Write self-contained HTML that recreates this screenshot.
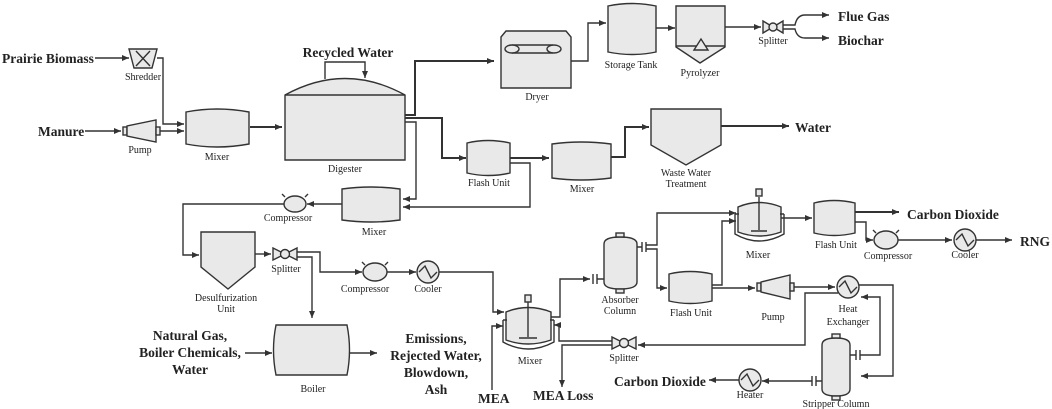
<!DOCTYPE html>
<html><head><meta charset="utf-8"><style>
html,body{margin:0;padding:0;background:#fff;}
svg{display:block;}
text{font-family:"Liberation Serif",serif;fill:#222;}
.l{font-size:10px;text-anchor:middle;}
.b{font-size:13.5px;font-weight:bold;}
.s{fill:#e9e9e9;stroke:#333;stroke-width:1.4;}
.p{fill:none;stroke:#333;stroke-width:1.4;}
.t{fill:none;stroke:#333;stroke-width:2;}
</style></head><body>
<svg width="1052" height="409" viewBox="0 0 1052 409" xmlns="http://www.w3.org/2000/svg">
<defs><marker id="a" markerWidth="8" markerHeight="8" refX="7" refY="4" orient="auto" markerUnits="userSpaceOnUse"><path d="M0,1 L7,4 L0,7 Z" fill="#333"/></marker></defs>

<text class="b" x="2" y="63">Prairie Biomass</text>
<path class="p" d="M95,58 H129" marker-end="url(#a)"/>
<path class="s" d="M129,49 H157 L152,68 H134 Z"/><path class="p" d="M136,51 L150,66 M150,51 L136,66"/>
<text class="l" x="143" y="80">Shredder</text>
<path class="p" d="M157,58 H163 V124 H184" marker-end="url(#a)"/>
<text class="b" x="38" y="136">Manure</text>
<path class="p" d="M85,131 H121" marker-end="url(#a)"/>
<rect class="s" x="123" y="127" width="4" height="8"/><path class="s" d="M127,126 L156,120 V142 L127,136 Z"/><rect class="s" x="156" y="127" width="4" height="8"/>
<text class="l" x="140" y="153">Pump</text>
<path class="p" d="M160,131 H184" marker-end="url(#a)"/>
<path class="s" d="M186,112 Q217,106 249,112 V144 Q217,150 186,144 Z"/>
<text class="l" x="217" y="160">Mixer</text>
<path class="t" d="M250,127 H282" marker-end="url(#a)"/>
<path class="s" d="M285,95 Q345,62 405,95 V160 H285 Z"/><path class="p" d="M285,95 H405"/>
<text class="l" x="345" y="172">Digester</text>
<text class="b" x="348" y="57" text-anchor="middle">Recycled Water</text>
<path class="p" d="M325,79 V62 H365 V78" marker-end="url(#a)"/>
<path class="t" d="M405,115 H415 V61 H494" marker-end="url(#a)"/>
<path class="t" d="M405,118 H442 V158 H466" marker-end="url(#a)"/>
<path class="p" d="M405,122 H416 V199 H403" marker-end="url(#a)"/>
<path class="s" d="M501,37 L506,31 H566 L571,37 V88 H501 Z"/>
<path class="p" d="M512,45 H553 M512,53 H553"/><ellipse class="s" cx="512" cy="49" rx="7" ry="4"/><ellipse class="s" cx="554" cy="49" rx="7" ry="4"/>
<text class="l" x="537" y="100">Dryer</text>
<path class="p" d="M571,61 H588 V23 H606" marker-end="url(#a)"/>
<path class="s" d="M608,6 Q632,1 656,6 V52 Q632,57 608,52 Z"/>
<text class="l" x="631" y="68">Storage Tank</text>
<path class="p" d="M656,28 H675" marker-end="url(#a)"/>
<path class="s" d="M676,6 H725 V47 L700,63 L676,47 Z"/><path class="p" d="M676,46 H725"/>
<path class="s" d="M694,50 L701,39 L708,50 Z"/>
<text class="l" x="700" y="76">Pyrolyzer</text>
<path class="p" d="M725,27 H761" marker-end="url(#a)"/>
<path class="s" d="M763,21 L773,27 L763,33 Z M783,21 L773,27 L783,33 Z"/><circle class="s" cx="773" cy="27" r="4"/>
<text class="l" x="773" y="44">Splitter</text>
<path class="p" d="M783,25 H795 Q797,15 805,15 H829" marker-end="url(#a)"/>
<path class="p" d="M783,29 H795 Q797,38 805,38 H829" marker-end="url(#a)"/>
<text class="b" x="838" y="21">Flue Gas</text>
<text class="b" x="838" y="45">Biochar</text>
<path class="s" d="M467,143 Q488,138 510,143 V173 Q488,178 467,173 Z"/>
<text class="l" x="489" y="186">Flash Unit</text>
<path class="t" d="M510,158 H549" marker-end="url(#a)"/>
<path class="p" d="M510,163 H530 V207 H403" marker-end="url(#a)"/>
<path class="s" d="M552,144 Q581,140 611,144 V178 Q581,182 552,178 Z"/>
<text class="l" x="582" y="192">Mixer</text>
<path class="t" d="M611,157 H625 V127 H649" marker-end="url(#a)"/>
<path class="s" d="M651,109 H721 V145 L686,165 L651,145 Z"/>
<text class="l" x="686" y="176">Waste Water</text><text class="l" x="686" y="187">Treatment</text>
<path class="t" d="M721,126 H789" marker-end="url(#a)"/>
<text class="b" x="795" y="132">Water</text>
<path class="s" d="M342,189 Q371,185 400,189 V220 Q371,224 342,220 Z"/>
<text class="l" x="374" y="235">Mixer</text>
<path class="p" d="M342,204 H307" marker-end="url(#a)"/>
<ellipse class="s" cx="295" cy="204" rx="11" ry="8"/><path class="p" d="M285,197 L282,194 M305,197 L308,194"/>
<text class="l" x="288" y="221">Compressor</text>
<path class="p" d="M284,204 H183 V255 H199" marker-end="url(#a)"/>
<path class="s" d="M201,232 H255 V267 L228,289 L201,267 Z"/>
<text class="l" x="226" y="301">Desulfurization</text><text class="l" x="226" y="312">Unit</text>
<path class="p" d="M255,254 H271" marker-end="url(#a)"/>
<path class="s" d="M273,248 L285,254 L273,260 Z M297,248 L285,254 L297,260 Z"/><circle class="s" cx="285" cy="254" r="4.5"/>
<text class="l" x="286" y="272">Splitter</text>
<path class="p" d="M297,252 H320 V272 H362" marker-end="url(#a)"/>
<path class="p" d="M297,257 H312 V318" marker-end="url(#a)"/>
<ellipse class="s" cx="375" cy="272" rx="12" ry="9"/><path class="p" d="M365,265 L362,262 M385,265 L388,262"/>
<text class="l" x="365" y="292">Compressor</text>
<path class="p" d="M387,272 H416" marker-end="url(#a)"/>
<circle class="s" cx="428" cy="272" r="11"/><path class="p" d="M419,272 L425,266 L431,278 L437,272"/>
<text class="l" x="428" y="292">Cooler</text>
<path class="p" d="M439,272 H493 V312 H504" marker-end="url(#a)"/>
<path class="s" d="M276,325 H347 Q352,350 347,375 H276 Q271,350 276,325 Z"/>
<text class="l" x="313" y="392">Boiler</text>
<text class="b" x="190" y="340" text-anchor="middle">Natural Gas,</text>
<text class="b" x="190" y="357" text-anchor="middle">Boiler Chemicals,</text>
<text class="b" x="190" y="374" text-anchor="middle">Water</text>
<path class="p" d="M245,353 H272" marker-end="url(#a)"/>
<path class="p" d="M350,353 H377" marker-end="url(#a)"/>
<text class="b" x="436" y="343" text-anchor="middle">Emissions,</text>
<text class="b" x="436" y="360" text-anchor="middle">Rejected Water,</text>
<text class="b" x="436" y="377" text-anchor="middle">Blowdown,</text>
<text class="b" x="436" y="394" text-anchor="middle">Ash</text>
<path class="s" d="M506,312 Q528,303 551,312 V340 Q528,348 506,340 Z"/>
<path class="p" d="M503,320 V342 Q528,356 554,342 V320 M503,320 H507 M550,320 H554"/>
<path class="p" d="M528,302 V337 M519,338 H537"/><rect class="s" x="525" y="295" width="6" height="7"/>
<text class="l" x="530" y="364">Mixer</text>
<text class="b" x="478" y="403">MEA</text>
<path class="p" d="M492,390 V326 H503" marker-end="url(#a)"/>
<text class="b" x="533" y="400">MEA Loss</text>
<path class="p" d="M613,345 H562 V387" marker-end="url(#a)"/>
<path class="p" d="M613,341 H559 V325 H554" marker-end="url(#a)"/>
<path class="s" d="M612,337 L624,343 L612,349 Z M636,337 L624,343 L636,349 Z"/><circle class="s" cx="624" cy="343" r="4.5"/>
<text class="l" x="624" y="361">Splitter</text>
<path class="p" d="M551,317 H560 V279 H590" marker-end="url(#a)"/>
<path class="p" d="M593,274 V284 M597,274 V284 M597,279 H604"/>
<path class="s" d="M604,244 Q604,237 620,237 Q637,237 637,244 V282 Q637,289 620,289 Q604,289 604,282 Z"/>
<rect class="s" x="616" y="233" width="8" height="4"/><rect class="s" x="616" y="289" width="8" height="4"/>
<text class="l" x="620" y="303">Absorber</text><text class="l" x="620" y="314">Column</text>
<path class="p" d="M637,247 H642 M642,242 V252 M646,242 V252"/>
<path class="p" d="M646,245 H657 V213 H736" marker-end="url(#a)"/>
<path class="p" d="M646,249 H657 V288 H667" marker-end="url(#a)"/>
<path class="s" d="M669,274 Q690,269 712,274 V301 Q690,306 669,301 Z"/>
<text class="l" x="691" y="316">Flash Unit</text>
<path class="p" d="M712,285 H722 V221 H736" marker-end="url(#a)"/>
<path class="p" d="M712,288 H755" marker-end="url(#a)"/>
<path class="s" d="M738,207 Q759,198 781,207 V232 Q759,240 738,232 Z"/>
<path class="p" d="M735,214 V234 Q759,248 784,234 V214 M735,214 H739 M780,214 H784"/>
<path class="p" d="M759,197 V230 M751,231 H767"/><rect class="s" x="756" y="189" width="6" height="7"/>
<text class="l" x="758" y="258">Mixer</text>
<path class="p" d="M781,218 H812" marker-end="url(#a)"/>
<path class="s" d="M814,203 Q834,198 855,203 V233 Q834,238 814,233 Z"/>
<text class="l" x="836" y="248">Flash Unit</text>
<path class="t" d="M855,212 H899" marker-end="url(#a)"/>
<text class="b" x="907" y="219">Carbon Dioxide</text>
<path class="p" d="M855,222 H866 V240 H873" marker-end="url(#a)"/>
<ellipse class="s" cx="886" cy="240" rx="12" ry="9"/><path class="p" d="M876,233 L873,230 M896,233 L899,230"/>
<text class="l" x="888" y="259">Compressor</text>
<path class="p" d="M898,240 H952" marker-end="url(#a)"/>
<circle class="s" cx="965" cy="240" r="11"/><path class="p" d="M956,240 L962,234 L968,246 L974,240"/>
<text class="l" x="965" y="258">Cooler</text>
<path class="p" d="M976,240 H1012" marker-end="url(#a)"/>
<text class="b" x="1020" y="246">RNG</text>
<rect class="s" x="757" y="283" width="4" height="8"/><path class="s" d="M761,282 L790,275 V299 L761,292 Z"/><rect class="s" x="790" y="283" width="4" height="8"/>
<text class="l" x="773" y="320">Pump</text>
<path class="p" d="M794,287 H835" marker-end="url(#a)"/>
<circle class="s" cx="848" cy="287" r="11"/><path class="p" d="M839,287 L845,281 L851,293 L857,287"/>
<text class="l" x="848" y="312">Heat</text><text class="l" x="848" y="325">Exchanger</text>
<path class="p" d="M859,285 H893 V376 H861" marker-end="url(#a)"/>
<path class="p" d="M838,293 H805 V345 H638" marker-end="url(#a)"/>
<path class="s" d="M822,345 Q822,338 836,338 Q850,338 850,345 V389 Q850,396 836,396 Q822,396 822,389 Z"/>
<rect class="s" x="832" y="334" width="8" height="4"/><rect class="s" x="832" y="396" width="8" height="4"/>
<text class="l" x="836" y="407">Stripper Column</text>
<path class="p" d="M850,355 H856 M856,350 V360 M860,350 V360 M860,355 H880 V297 H861" marker-end="url(#a)"/>
<path class="p" d="M822,381 H816 M816,376 V386 M812,376 V386 M812,381 H762" marker-end="url(#a)"/>
<circle class="s" cx="750" cy="380" r="11"/><path class="p" d="M741,380 L747,374 L753,386 L759,380"/>
<text class="l" x="750" y="398">Heater</text>
<path class="p" d="M739,380 H709" marker-end="url(#a)"/>
<text class="b" x="614" y="386">Carbon Dioxide</text>
</svg>
</body></html>
